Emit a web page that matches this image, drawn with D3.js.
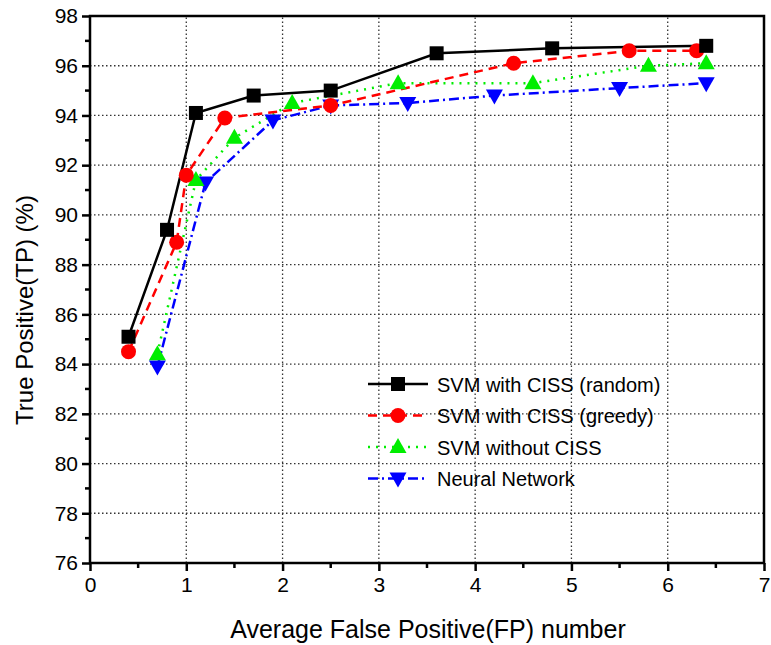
<!DOCTYPE html>
<html>
<head>
<meta charset="utf-8">
<script src="https://cdn.jsdelivr.net/npm/d3@7"></script>
<style>
  body { margin: 0; background: #fff; }
  text { font-family: Arial, "Liberation Sans", sans-serif; fill: #000; }
</style>
</head>
<body>
<div id="chart"></div>
<script>
// series data: [FP, TP]
var randomPts = [[0.4, 85.1], [0.8, 89.4], [1.1, 94.1], [1.7, 94.8], [2.5, 95.0], [3.6, 96.5], [4.8, 96.7], [6.4, 96.8]];
var greedyPts = [[0.4, 84.5], [0.9, 88.9], [1.0, 91.6], [1.4, 93.9], [2.5, 94.4], [4.4, 96.1], [5.6, 96.6], [6.3, 96.6]];
var noCissPts = [[0.7, 84.4], [1.1, 91.4], [1.5, 93.1], [2.1, 94.5], [3.2, 95.3], [4.6, 95.3], [5.8, 96.0], [6.4, 96.1]];
var neuralPts = [[0.7, 83.9], [1.2, 91.3], [1.9, 93.8], [2.5, 94.4], [3.3, 94.5], [4.2, 94.8], [5.5, 95.1], [6.4, 95.3]];

var seriesNames = ['SVM with CISS (random)', 'SVM with CISS (greedy)', 'SVM without CISS', 'Neural Network'];
var xTicks = [0, 1, 2, 3, 4, 5, 6, 7];
var yTicks = [76, 78, 80, 82, 84, 86, 88, 90, 92, 94, 96, 98];

var width = 771, height = 645;
var margin = { left: 90, right: 7, top: 16, bottom: 82 };

var svg = d3.select('#chart').append('svg')
    .attr('width', width)
    .attr('height', height);

var x = d3.scaleLinear().domain([0, 7]).range([margin.left, width - margin.right]);
var y = d3.scaleLinear().domain([76, 98]).range([height - margin.bottom, margin.top]);

//dotted grid
svg.append('g').selectAll('line').data(xTicks.slice(1, -1))
    .enter().append('line')
    .attr('x1', function(d) { return x(d); }).attr('x2', function(d) { return x(d); })
    .attr('y1', y(76)).attr('y2', y(98))
    .style('stroke', '#333').style('stroke-width', 1.3).style('stroke-dasharray', '1.5,2.5');
svg.append('g').selectAll('line').data(yTicks.slice(1, -1))
    .enter().append('line')
    .attr('y1', function(d) { return y(d); }).attr('y2', function(d) { return y(d); })
    .attr('x1', x(0)).attr('x2', x(7))
    .style('stroke', '#333').style('stroke-width', 1.3).style('stroke-dasharray', '1.5,2.5');

//axes
var xAxis = d3.axisBottom(x).tickValues(xTicks).tickSize(8).tickPadding(6).tickFormat(d3.format('d'));
var yAxis = d3.axisLeft(y).tickValues(yTicks).tickSize(8).tickPadding(4).tickFormat(d3.format('d'));

var gx = svg.append('g').attr('transform', 'translate(0,' + y(76) + ')').call(xAxis);
var gy = svg.append('g').attr('transform', 'translate(' + x(0) + ',0)').call(yAxis);

[gx, gy].forEach(function(g) {
    g.select('.domain').remove();
    g.selectAll('.tick line').style('stroke', '#000').style('stroke-width', 2.5);
    g.selectAll('.tick text').style('font-size', '21px').style('fill', '#000');
});

//minor ticks
var minorX = d3.range(0.5, 7, 1);
var minorY = d3.range(77, 98, 2);
svg.append('g').selectAll('line').data(minorX)
    .enter().append('line')
    .attr('x1', function(d) { return x(d); }).attr('x2', function(d) { return x(d); })
    .attr('y1', y(76)).attr('y2', y(76) + 5)
    .style('stroke', '#000').style('stroke-width', 2.5);
svg.append('g').selectAll('line').data(minorY)
    .enter().append('line')
    .attr('y1', function(d) { return y(d); }).attr('y2', function(d) { return y(d); })
    .attr('x1', x(0)).attr('x2', x(0) - 5)
    .style('stroke', '#000').style('stroke-width', 2.5);

//frame
svg.append('rect')
    .attr('x', x(0)).attr('y', y(98))
    .attr('width', x(7) - x(0)).attr('height', y(76) - y(98))
    .style('fill', 'none').style('stroke', '#000').style('stroke-width', 2.5);

//axis titles
svg.append('text')
    .attr('x', 428).attr('y', 638)
    .attr('text-anchor', 'middle')
    .style('font-size', '25px')
    .text('Average False Positive(FP) number');
svg.append('text')
    .attr('transform', 'translate(33,' + 310 + ') rotate(-90)')
    .attr('text-anchor', 'middle')
    .style('font-size', '24px')
    .text('True Positive(TP) (%)');

var styles = [
    { color: '#000000', dash: null, marker: 'square' },
    { color: '#ff0000', dash: '9,6', marker: 'circle' },
    { color: '#00ee00', dash: '2,6', marker: 'triangle' },
    { color: '#0000ff', dash: '10,4,2,4', marker: 'down' }
];
var allSeries = [randomPts, greedyPts, noCissPts, neuralPts];

var line = d3.line()
    .x(function(d) { return x(d[0]); })
    .y(function(d) { return y(d[1]); });

function drawMarker(g, type, cx, cy, color) {
    if (type === 'square') {
        g.append('rect').attr('x', cx - 7).attr('y', cy - 7).attr('width', 14).attr('height', 14)
            .style('fill', color);
    } else if (type === 'circle') {
        g.append('circle').attr('cx', cx).attr('cy', cy).attr('r', 7.5).style('fill', color);
    } else if (type === 'triangle') {
        g.append('path')
            .attr('d', 'M' + cx + ',' + (cy - 9) + 'L' + (cx + 8.5) + ',' + (cy + 6) + 'L' + (cx - 8.5) + ',' + (cy + 6) + 'Z')
            .style('fill', color);
    } else {
        g.append('path')
            .attr('d', 'M' + cx + ',' + (cy + 9) + 'L' + (cx + 8.5) + ',' + (cy - 6) + 'L' + (cx - 8.5) + ',' + (cy - 6) + 'Z')
            .style('fill', color);
    }
}

//lines first, markers after (reverse order so black is on top)
for (var i = allSeries.length - 1; i >= 0; i--) {
    svg.append('path').datum(allSeries[i])
        .attr('d', line)
        .style('fill', 'none')
        .style('stroke', styles[i].color)
        .style('stroke-width', 2.5)
        .style('stroke-dasharray', styles[i].dash);
}
for (var j = allSeries.length - 1; j >= 0; j--) {
    var mg = svg.append('g');
    allSeries[j].forEach(function(d) {
        drawMarker(mg, styles[j].marker, x(d[0]), y(d[1]), styles[j].color);
    });
}

//legend
var legendY = [384, 415.5, 447, 478.5];
seriesNames.forEach(function(name, k) {
    var lg = svg.append('g');
    lg.append('line')
        .attr('x1', 368).attr('x2', 428)
        .attr('y1', legendY[k]).attr('y2', legendY[k])
        .style('stroke', styles[k].color)
        .style('stroke-width', 2.5)
        .style('stroke-dasharray', styles[k].dash);
    drawMarker(lg, styles[k].marker, 398, legendY[k], styles[k].color);
    lg.append('text')
        .attr('x', 437).attr('y', legendY[k] + 7.5)
        .style('font-size', '20px')
        .text(name);
});
</script>
</body>
</html>
